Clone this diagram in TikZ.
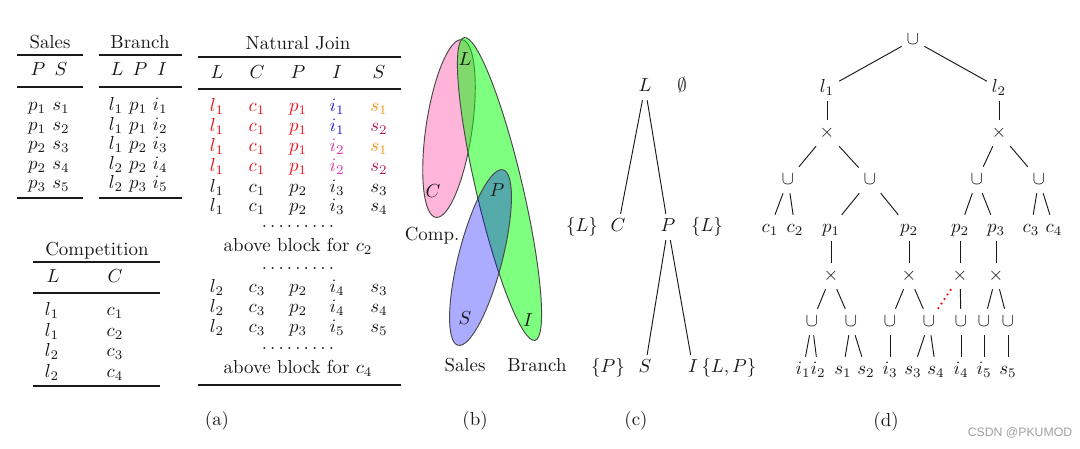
\documentclass[tikz,border=0pt]{standalone}
\usepackage{fontspec}
\newfontfamily\wmfont{Liberation Sans}
\definecolor{cI}{RGB}{225,50,170}
\definecolor{cS}{RGB}{175,25,90}
\definecolor{cO}{RGB}{240,150,30}
\definecolor{cR}{RGB}{235,20,30}
\definecolor{cB}{RGB}{30,30,230}
\definecolor{ink}{RGB}{25,25,25}
\definecolor{pinkfill}{RGB}{255,105,180}
\begin{document}
\begin{tikzpicture}[x=0.53pt,y=-0.53pt,
  t/.style={inner sep=0pt, text height=1.5ex, text depth=.35ex, text=ink},
  dts/.style={inner sep=0pt, anchor=base, text height=1pt, text depth=0pt, text=ink},
  heavy/.style={line width=1pt, draw=ink},
  light/.style={line width=0.6pt, draw=ink},
  tn/.style={inner sep=2.5pt, text height=1.6ex, text depth=0.4ex, text=ink},
  edge/.style={line width=0.5pt, draw=ink},
  blob/.style={draw=ink!80, line width=0.5pt},
]
\useasboundingbox (0,0) rectangle (1080,449);

% ---------------- (a) Sales
\node[t] (salesT) at (50,44) {Sales};
\draw[heavy] (17,55) -- (83,55);
\node[t] (salesP) at (38,71) {$P$};
\node[t] (salesS) at (61,71) {$S$};
\draw[light] (17,87) -- (83,87);
\foreach \p/\s [count=\k from 0] in {1/1,1/2,2/3,2/4,3/5}{
  \node[t] (sp-\k) at (37,{106+19.5*\k}) {$p_{\p}$};
  \node[t] (ss-\k) at (61,{106+19.5*\k}) {$s_{\s}$};
}
\draw[heavy] (17,198) -- (83,198);

% ---------------- (a) Branch
\node[t] (branchT) at (140,44) {Branch};
\draw[heavy] (99,55) -- (182,55);
\node[t] (brL) at (117,71) {$L$};
\node[t] (brP) at (140,71) {$P$};
\node[t] (brI) at (162,71) {$I$};
\draw[light] (99,87) -- (182,87);
\foreach \l/\p/\i [count=\k from 0] in {1/1/1,1/1/2,1/2/3,2/2/4,2/3/5}{
  \node[t] (bl-\k) at (116,{106+19.5*\k}) {$l_{\l}$};
  \node[t] (bp-\k) at (138,{106+19.5*\k}) {$p_{\p}$};
  \node[t] (bi-\k) at (160,{106+19.5*\k}) {$i_{\i}$};
}
\draw[heavy] (99,198) -- (182,198);

% ---------------- (a) Competition
\node[t] (compT) at (97,251) {Competition};
\draw[heavy] (33,262) -- (160,262);
\node[t] (coL) at (53,278) {$L$};
\node[t] (coC) at (115,278) {$C$};
\draw[light] (33,293) -- (160,293);
\foreach \l/\c [count=\k from 0] in {1/1,1/2,2/3,2/4}{
  \node[t] (cl-\k) at (52,{311+20.5*\k}) {$l_{\l}$};
  \node[t] (cc-\k) at (115,{311+20.5*\k}) {$c_{\c}$};
}
\draw[heavy] (33,386) -- (160,386);

% ---------------- (a) Natural Join
\node[t] (njT) at (298,45) {Natural Join};
\draw[heavy] (198,57) -- (401,57);
\node[t] (njL) at (217,74) {$L$};
\node[t] (njC) at (257,74) {$C$};
\node[t] (njP) at (298,74) {$P$};
\node[t] (njI) at (337,74) {$I$};
\node[t] (njS) at (379,74) {$S$};
\draw[light] (198,89) -- (401,89);
\foreach \y/\cl/\ci/\cs/\vl/\vc/\vp/\vi/\vs [count=\r] in {
  107/cR/cB/cO/l_1/c_1/p_1/i_1/s_1,
  127/cR/cB/cS/l_1/c_1/p_1/i_1/s_2,
  147/cR/cI/cO/l_1/c_1/p_1/i_2/s_1,
  167/cR/cI/cS/l_1/c_1/p_1/i_2/s_2,
  188/ink/ink/ink/l_1/c_1/p_2/i_3/s_3,
  207/ink/ink/ink/l_1/c_1/p_2/i_3/s_4,
  288/ink/ink/ink/l_2/c_3/p_2/i_4/s_3,
  308/ink/ink/ink/l_2/c_3/p_2/i_4/s_4,
  328/ink/ink/ink/l_2/c_3/p_3/i_5/s_5}{
  \node[t,text=\cl] (nj-\r-1) at (217,\y) {$\vl$};
  \node[t,text=\cl] (nj-\r-2) at (257,\y) {$\vc$};
  \node[t,text=\cl] (nj-\r-3) at (298,\y) {$\vp$};
  \node[t,text=\ci] (nj-\r-4) at (337,\y) {$\vi$};
  \node[t,text=\cs] (nj-\r-5) at (379,\y) {$\vs$};
}
\node[dts] (dots1) at (298,227) {$\ldots\ldots\ldots$};
\node[t] (blk2) at (298,247) {above block for $c_2$};
\node[dts] (dots2) at (298,269) {$\ldots\ldots\ldots$};
\node[dts] (dots3) at (298,349) {$\ldots\ldots\ldots$};
\node[t] (blk4) at (298,369) {above block for $c_4$};
\draw[heavy] (198,385) -- (401,385);
\node[t] (capA) at (217,421) {(a)};

% ---------------- (b) hypergraph
\path[blob, fill=pinkfill, fill opacity=0.5, shift={(449,128.5)}, rotate=81.6]
  (0,0) ellipse [x radius=47.6pt, y radius=12.2pt];
\path[blob, fill=green, fill opacity=0.5, shift={(499.5,189)}, rotate=103.2]
  (0,0) ellipse [x radius=82.4pt, y radius=12.3pt];
\path[blob, fill=blue, fill opacity=0.33, shift={(480.5,257.5)}, rotate=75.6]
  (0,0) ellipse [x radius=48pt, y radius=11.6pt];
\node[t] (bL) at (465,61) {$L$};
\node[t] (bC) at (433,193) {$C$};
\node[t] (bP) at (497,192) {$P$};
\node[t] (bS) at (465,320) {$S$};
\node[t] (bI) at (528,322) {$I$};
\node[t] (bComp) at (432,236) {Comp.};
\node[t] (bSales) at (465,367) {Sales};
\node[t] (bBranch) at (537,367) {Branch};
\node[t] (capB) at (475,421) {(b)};

% ---------------- (c) join tree
\node[tn] (cL) at (645,87) {$L$};
\node[tn] (cE) at (682,87) {$\emptyset$};
\node[tn] (cC) at (618,227) {$C$};
\node[tn] (cP) at (668,227) {$P$};
\node[tn] (cCl) at (582,227) {$\{L\}$};
\node[tn] (cPl) at (707,227) {$\{L\}$};
\node[tn] (cS) at (645,368) {$S$};
\node[tn] (cI) at (693,368) {$I$};
\node[tn] (cSl) at (608,368) {$\{P\}$};
\node[tn] (cIl) at (729,368) {$\{L,P\}$};
\draw[edge] (cL) -- (cC);
\draw[edge] (cL) -- (cP);
\draw[edge] (cP) -- (cS);
\draw[edge] (cP) -- (cI);
\node[t] (capC) at (636,421) {(c)};

% ---------------- (d) factorised tree
\node[tn] (U0) at (913,40) {$\cup$};
\node[tn] (l1) at (827,88) {$l_1$};
\node[tn] (l2) at (999,88) {$l_2$};
\node[tn] (X1) at (827,133) {$\times$};
\node[tn] (X2) at (999,133) {$\times$};
\node[tn] (U1) at (788,180) {$\cup$};
\node[tn] (U2) at (870,180) {$\cup$};
\node[tn] (U3) at (977,180) {$\cup$};
\node[tn] (U4) at (1039,180) {$\cup$};
\node[tn] (c1) at (770,228) {$c_1$};
\node[tn] (c2) at (795,228) {$c_2$};
\node[tn] (p1) at (831,228) {$p_1$};
\node[tn] (p2a) at (909,228) {$p_2$};
\node[tn] (p2b) at (960,228) {$p_2$};
\node[tn] (p3) at (996,228) {$p_3$};
\node[tn] (c3) at (1031,228) {$c_3$};
\node[tn] (c4) at (1054,228) {$c_4$};
\node[tn] (Xa) at (831,276) {$\times$};
\node[tn] (Xb) at (909,276) {$\times$};
\node[tn] (Xc) at (960,276) {$\times$};
\node[tn] (Xd) at (996,276) {$\times$};
\node[tn] (Ua) at (812,322) {$\cup$};
\node[tn] (Ub) at (851,322) {$\cup$};
\node[tn] (Uc) at (890,322) {$\cup$};
\node[tn] (Ud) at (929,322) {$\cup$};
\node[tn] (Ue) at (961,322) {$\cup$};
\node[tn] (Uf) at (984,322) {$\cup$};
\node[tn] (Ug) at (1008,322) {$\cup$};
\node[tn] (i1) at (803,370) {$i_1$};
\node[tn] (i2) at (818,370) {$i_2$};
\node[tn] (s1) at (843,370) {$s_1$};
\node[tn] (s2) at (866,370) {$s_2$};
\node[tn] (i3) at (890,370) {$i_3$};
\node[tn] (s3) at (913,370) {$s_3$};
\node[tn] (s4) at (936,370) {$s_4$};
\node[tn] (i4) at (961,370) {$i_4$};
\node[tn] (i5) at (984,370) {$i_5$};
\node[tn] (s5) at (1008,370) {$s_5$};
\foreach \a/\b in {U0/l1,U0/l2,l1/X1,l2/X2,X1/U1,X1/U2,X2/U3,X2/U4,
  U1/c1,U1/c2,U2/p1,U2/p2a,U3/p2b,U3/p3,U4/c3,U4/c4,
  p1/Xa,p2a/Xb,p2b/Xc,p3/Xd,Xa/Ua,Xa/Ub,Xb/Uc,Xb/Ud,Xc/Ue,Xd/Uf,Xd/Ug,
  Ua/i1,Ua/i2,Ub/s1,Ub/s2,Uc/i3,Ud/s3,Ud/s4,Ue/i4,Uf/i5,Ug/s5}
  \draw[edge] (\a) -- (\b);
\draw[red, dotted, line width=0.9pt] (Xc) -- (Ud);
\node[t] (capD) at (886,422) {(d)};

\node[inner sep=0pt, font=\wmfont\fontsize{6.5}{7}\selectfont, text=gray!75] (wm) at (1020,433) {CSDN @PKUMOD};
\end{tikzpicture}
\end{document}
